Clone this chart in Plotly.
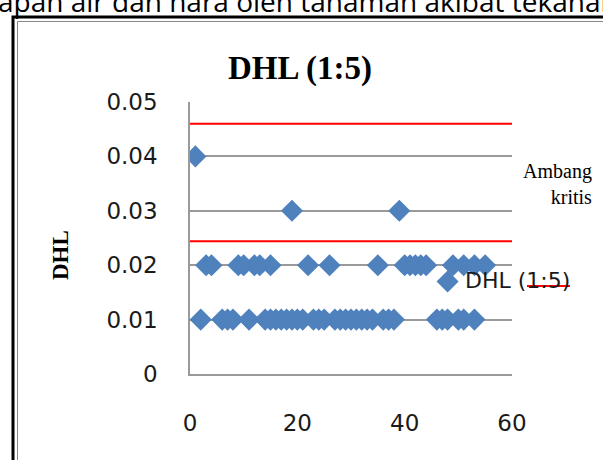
import plotly.graph_objects as go

# ---- data ----
x_004 = [1]
y_004 = [0.04]
x_003 = [19, 39]
y_003 = [0.03, 0.03]
x_0017 = [48]
y_0017 = [0.017]
x_002 = [3, 4, 9, 10, 12, 13, 15, 22, 26, 35, 40, 41, 42, 43, 44, 49, 51, 53, 55]
x_001 = [2, 6, 7, 8, 11, 14, 15, 16, 17, 18, 19, 20, 21, 23, 24, 25, 27, 28, 29,
         30, 31, 32, 33, 34, 36, 37, 38, 46, 47, 48, 50, 51, 53]
threshold_upper = 0.046
threshold_lower = 0.0244
x_range = [0, 60]
x_ticks = [0, 20, 40, 60]
y_ticks = [0, 0.01, 0.02, 0.03, 0.04, 0.05]
y_ticktext = ["0", "0.01", "0.02", "0.03", "0.04", "0.05"]

xs = x_004 + x_003 + x_0017 + x_002 + x_001
ys = y_004 + y_003 + y_0017 + [0.02] * len(x_002) + [0.01] * len(x_001)

W, H = 603, 460
L, R, T, B = 190, 512, 102, 374


def fx(px):
    return (px - L) / (R - L)


def fy(py):
    return (B - py) / (B - T)


fig = go.Figure()
fig.add_trace(go.Scatter(x=x_range, y=[threshold_upper] * 2, mode="lines",
                         line=dict(color="#FF0000", width=2), showlegend=False))
fig.add_trace(go.Scatter(x=x_range, y=[threshold_lower] * 2, mode="lines",
                         line=dict(color="#FF0000", width=2), showlegend=False))
fig.add_trace(go.Scatter(x=xs, y=ys, mode="markers",
                         marker=dict(symbol="diamond", size=17, color="#4F81BD",
                                     line=dict(width=0)),
                         showlegend=False))

tick_font = dict(family="DejaVu Sans", size=23, color="#1a1a1a")
fig.update_xaxes(range=x_range, tickvals=x_ticks, showgrid=False, zeroline=False,
                 showline=True, linecolor="#9a9a9a", linewidth=1.5,
                 tickfont=tick_font, ticks="", ticklabelstandoff=28)
fig.update_yaxes(range=[0, 0.05], tickvals=y_ticks, ticktext=y_ticktext,
                 showgrid=True, gridcolor="#9a9a9a", gridwidth=1.5, zeroline=False,
                 showline=True, linecolor="#9a9a9a", linewidth=1.5,
                 tickfont=tick_font, ticks="", ticklabelstandoff=26)

annotations = [
    dict(x=fx(300), y=fy(68), text="<b>DHL (1:5)</b>", showarrow=False,
         xanchor="center", yanchor="middle",
         font=dict(family="Liberation Serif", size=33, color="#000")),
    dict(x=fx(60), y=fy(255), text="<b>DHL</b>", showarrow=False, textangle=-90,
         xanchor="center", yanchor="middle",
         font=dict(family="Liberation Serif", size=23, color="#000")),
    dict(x=fx(594), y=fy(184), text="Ambang<br>kritis", showarrow=False,
         xanchor="right", yanchor="middle", align="right",
         font=dict(family="Liberation Serif", size=20, color="#000")),
    dict(x=fx(463), y=fy(280), text="DHL (1:5)", showarrow=False,
         xanchor="left", yanchor="middle",
         font=dict(family="DejaVu Sans", size=22, color="#1a1a1a")),
    dict(x=fx(-4), y=fy(22), text="apan air dan hara oleh tanaman akibat tekanan",
         showarrow=False, xanchor="left", yanchor="bottom",
         font=dict(family="Open Sans", size=28, color="#000")),
]
for a in annotations:
    a["xref"] = "paper"
    a["yref"] = "paper"

shapes = [
    dict(type="line", xref="paper", yref="paper", x0=fx(527), x1=fx(570),
         y0=fy(286), y1=fy(286), line=dict(color="#FF0000", width=2)),
    dict(type="rect", xref="paper", yref="paper", x0=fx(13), x1=fx(640),
         y0=fy(17), y1=fy(500), line=dict(color="#000", width=3)),
    dict(type="rect", xref="paper", yref="paper", x0=fx(17.5), x1=fx(640),
         y0=fy(21.5), y1=fy(500), line=dict(color="#888", width=1)),
]

fig.update_layout(width=W, height=H,
                  margin=dict(l=L, r=W - R, t=T, b=H - B, pad=0),
                  plot_bgcolor="white", paper_bgcolor="white",
                  annotations=annotations, shapes=shapes, showlegend=False)

fig.write_html("out.html")
